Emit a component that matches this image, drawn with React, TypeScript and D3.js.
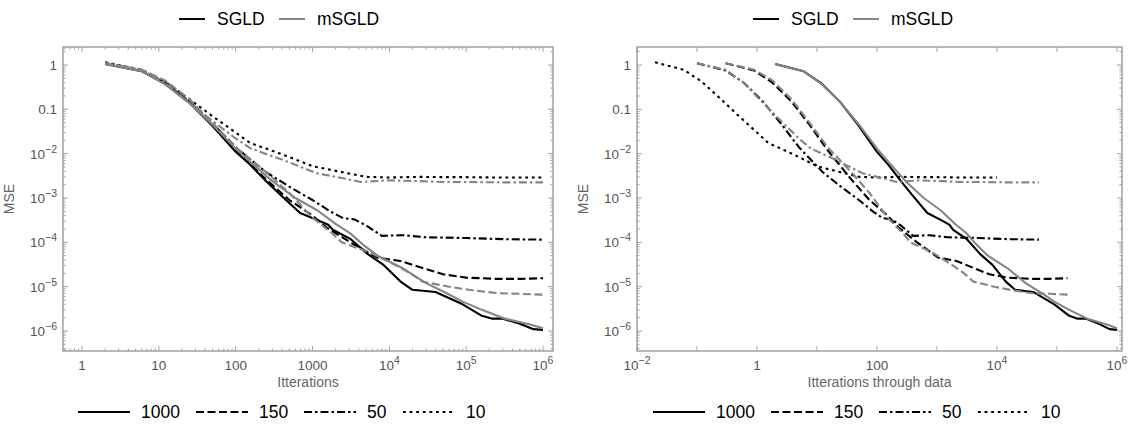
import React from "react";
import * as d3 from "d3";

type Pt = [number, number];

// ---- data (x = iterations, y = MSE) ----
const DATA_SIZE = 1000;
const BATCH_SIZES = [1000, 150, 50, 10];
const METHODS = ["SGLD", "mSGLD"];

const SGLD_1000: Pt[] = [
  [2, 1.05], [6, 0.72], [12, 0.38], [25, 0.14], [50, 0.042], [100, 0.011], [155, 5.6e-3],
  [250, 2.4e-3], [400, 1.1e-3], [690, 4.6e-4], [1150, 3.2e-4], [1600, 2.5e-4], [1860, 1.9e-4],
  [3100, 1.2e-4], [5200, 5.5e-5], [8400, 3.1e-5], [1.4e4, 1.3e-5], [2e4, 8.5e-6], [4e4, 7.6e-6],
  [9e4, 4e-6], [1.6e5, 2.2e-6], [2.2e5, 1.9e-6], [3e5, 1.9e-6], [5e5, 1.45e-6], [7.5e5, 1.1e-6],
  [1e6, 1.06e-6],
];
const MSGLD_1000: Pt[] = [
  [2, 1.05], [6, 0.72], [12, 0.37], [25, 0.14], [50, 0.045], [100, 0.013], [155, 6.5e-3],
  [300, 2.4e-3], [600, 1.0e-3], [1150, 5.3e-4], [2000, 2.6e-4], [3100, 1.6e-4], [4500, 9e-5],
  [7000, 5e-5], [1.5e4, 2.6e-5], [3e4, 1.2e-5], [5.5e4, 7.2e-6], [9e4, 4.6e-6], [1.6e5, 3e-6],
  [3.2e5, 1.9e-6], [6.8e5, 1.4e-6], [1e6, 1.15e-6],
];
const SGLD_150: Pt[] = [
  [2, 1.1], [6, 0.75], [12, 0.4], [25, 0.15], [50, 0.045], [100, 0.012], [250, 2.6e-3],
  [500, 9e-4], [1000, 4e-4], [1500, 2.2e-4], [3100, 1e-4], [7000, 4.5e-5], [1.4e4, 3.8e-5],
  [3e4, 2.5e-5], [5e4, 1.9e-5], [1e5, 1.6e-5], [2.5e5, 1.5e-5], [5e5, 1.5e-5], [1e6, 1.55e-5],
];
const MSGLD_150: Pt[] = [
  [2, 1.1], [6, 0.78], [12, 0.45], [25, 0.17], [50, 0.05], [100, 0.014], [250, 3.8e-3],
  [500, 1.3e-3], [1000, 3.6e-4], [1800, 1.6e-4], [2400, 1e-4], [5700, 5.8e-5], [1.1e4, 3.3e-5],
  [1.8e4, 2.1e-5], [2.7e4, 1.3e-5], [6e4, 1e-5], [1.2e5, 8.3e-6], [2.6e5, 7.1e-6],
  [5e5, 6.9e-6], [1e6, 6.6e-6],
];
const SGLD_50: Pt[] = [
  [2, 1.1], [6, 0.75], [12, 0.4], [25, 0.15], [50, 0.048], [100, 0.014], [250, 3.8e-3],
  [500, 1.8e-3], [1000, 9e-4], [1700, 5e-4], [2500, 3.5e-4], [3500, 3.3e-4], [5000, 2.4e-4],
  [8000, 1.4e-4], [1.5e4, 1.45e-4], [3e4, 1.3e-4], [1e5, 1.25e-4], [3e5, 1.18e-4], [1e6, 1.15e-4],
];
const MSGLD_50: Pt[] = [
  [2, 1.1], [6, 0.78], [12, 0.4], [25, 0.14], [50, 0.055], [100, 0.022], [155, 0.0133],
  [250, 9.8e-3], [415, 7.2e-3], [1150, 3.6e-3], [2500, 2.8e-3], [4200, 2.3e-3], [1e4, 2.5e-3],
  [2.5e4, 2.4e-3], [5e4, 2.3e-3], [1e5, 2.3e-3], [3e5, 2.25e-3], [1e6, 2.25e-3],
];
const SGLD_10: Pt[] = [
  [2, 1.15], [6, 0.78], [12, 0.42], [25, 0.17], [50, 0.07], [100, 0.03], [155, 0.0173],
  [250, 0.013], [500, 8.4e-3], [1000, 5.2e-3], [2500, 3.8e-3], [5000, 3.0e-3], [1e4, 2.9e-3],
  [2.5e4, 3.0e-3], [5e4, 2.95e-3], [1e5, 2.95e-3], [2.5e5, 2.9e-3], [5e5, 2.9e-3], [1e6, 2.9e-3],
];

// SGLD drawn first, mSGLD on top
const SERIES = [
  { method: "SGLD", batch: 1000, data: SGLD_1000 },
  { method: "SGLD", batch: 150, data: SGLD_150 },
  { method: "SGLD", batch: 50, data: SGLD_50 },
  { method: "SGLD", batch: 10, data: SGLD_10 },
  { method: "mSGLD", batch: 1000, data: MSGLD_1000 },
  { method: "mSGLD", batch: 150, data: MSGLD_150 },
  { method: "mSGLD", batch: 50, data: MSGLD_50 },
];

const LEFT_X_EXPS = [0, 1, 2, 3, 4, 5, 6];
const RIGHT_X_EXPS = [-2, -1, 0, 1, 2, 3, 4, 5, 6];
const RIGHT_X_LABELED = [-2, 0, 2, 4, 6];
const Y_EXPS = [0, -1, -2, -3, -4, -5, -6];

// ---- styles ----
const COLORS: Record<string, string> = { SGLD: "#000000", mSGLD: "#858585" };
const DASHES: Record<number, string> = { 1000: "none", 150: "8,3.5", 50: "8,3,2.5,3", 10: "2.8,3.8" };
const FONT = "'Liberation Sans', Arial, Helvetica, sans-serif";
const FRAME = "#9a9a9a";
const LABEL = "#555555";

const W = 1130;
const H = 427;

function ExpLabel({ e, x, y, anchor, plainUpTo }: { e: number; x: number; y: number; anchor: string; plainUpTo: number }) {
  let content: React.ReactNode;
  if (e === 0) content = "1";
  else if (e === -1 && plainUpTo >= 0) content = "0.1";
  else if (e > 0 && e <= plainUpTo) content = String(Math.pow(10, e));
  else
    content = (
      <>
        10
        <tspan dy={-6} fontSize={10.5}>
          {e < 0 ? "\u2212" + Math.abs(e) : String(e)}
        </tspan>
      </>
    );
  return (
    <text x={x} y={y} textAnchor={anchor as any} fontSize={13.5} fill={LABEL} fontFamily={FONT}>
      {content}
    </text>
  );
}

function Panel({
  x0, x1, y0, y1, xLog, xTitle, xExps, xLabeled, minorX, xPlain, xOf, id,
}: {
  x0: number; x1: number; y0: number; y1: number; xLog: [number, number]; xTitle: string;
  xExps: number[]; xLabeled: number[]; minorX: boolean; xPlain: number;
  xOf: (iter: number, batch: number) => number; id: string;
}) {
  const xs = d3.scaleLog().domain([Math.pow(10, xLog[0]), Math.pow(10, xLog[1])]).range([x0, x1]);
  const ys = d3.scaleLog().domain([Math.pow(10, -6.451), Math.pow(10, 0.406)]).range([y1, y0]);
  const line = d3
    .line<Pt>()
    .x((d) => xs(d[0]))
    .y((d) => ys(d[1]));

  const ticks: React.ReactNode[] = [];
  const MAJ = 5;
  const MIN = 2.6;
  xExps.forEach((e) => {
    const px = xs(Math.pow(10, e));
    ticks.push(<line key={`xb${e}`} x1={px} x2={px} y1={y1} y2={y1 - MAJ} />);
    ticks.push(<line key={`xt${e}`} x1={px} x2={px} y1={y0} y2={y0 + MAJ} />);
    if (minorX) {
      for (let k = 2; k <= 9; k++) {
        const v = k * Math.pow(10, e);
        if (v > xs.domain()[1]) continue;
        const p = xs(v);
        ticks.push(<line key={`xbm${e}${k}`} x1={p} x2={p} y1={y1} y2={y1 - MIN} />);
        ticks.push(<line key={`xtm${e}${k}`} x1={p} x2={p} y1={y0} y2={y0 + MIN} />);
      }
    }
  });
  if (minorX) {
    for (let k = 6; k <= 9; k++) {
      const v = k * Math.pow(10, xExps[0] - 1);
      if (v < xs.domain()[0]) continue;
      const p = xs(v);
      ticks.push(<line key={`xbn${k}`} x1={p} x2={p} y1={y1} y2={y1 - MIN} />);
      ticks.push(<line key={`xtn${k}`} x1={p} x2={p} y1={y0} y2={y0 + MIN} />);
    }
  }
  const yExpsAll = [-7, ...Y_EXPS];
  yExpsAll.forEach((e) => {
    const base = Math.pow(10, e);
    if (base >= ys.domain()[0] && base <= ys.domain()[1]) {
      const py = ys(base);
      ticks.push(<line key={`yl${e}`} x1={x0} x2={x0 + MAJ} y1={py} y2={py} />);
      ticks.push(<line key={`yr${e}`} x1={x1} x2={x1 - MAJ} y1={py} y2={py} />);
    }
    for (let k = 2; k <= 9; k++) {
      const v = k * base;
      if (v < ys.domain()[0] || v > ys.domain()[1]) continue;
      const p = ys(v);
      ticks.push(<line key={`ylm${e}${k}`} x1={x0} x2={x0 + MIN} y1={p} y2={p} />);
      ticks.push(<line key={`yrm${e}${k}`} x1={x1} x2={x1 - MIN} y1={p} y2={p} />);
    }
  });

  return (
    <g>
      <defs>
        <clipPath id={id}>
          <rect x={x0} y={y0} width={x1 - x0} height={y1 - y0} />
        </clipPath>
      </defs>
      <g clipPath={`url(#${id})`}>
        {SERIES.map((s, i) => (
          <path
            key={i}
            d={line(s.data.map((d) => [xOf(d[0], s.batch), d[1]] as Pt)) || ""}
            fill="none"
            stroke={COLORS[s.method]}
            strokeWidth={2.1}
            strokeDasharray={DASHES[s.batch]}
            strokeLinejoin="round"
          />
        ))}
      </g>
      <g stroke={FRAME} strokeWidth={0.9}>{ticks}</g>
      <rect x={x0} y={y0} width={x1 - x0} height={y1 - y0} fill="none" stroke={FRAME} strokeWidth={1.4} />
      {xLabeled.map((e) => (
        <ExpLabel key={`xl${e}`} e={e} x={xs(Math.pow(10, e))} y={y1 + 19} anchor="middle" plainUpTo={xPlain} />
      ))}
      {Y_EXPS.map((e) => (
        <ExpLabel key={`yl${e}`} e={e} x={x0 - 6} y={ys(Math.pow(10, e)) + 5} anchor="end" plainUpTo={0} />
      ))}
      <text x={(x0 + x1) / 2} y={y1 + 36} textAnchor="middle" fontSize={14} fill="#666" fontFamily={FONT}>
        {xTitle}
      </text>
      <text
        transform={`translate(${x0 - 49},${(y0 + y1) / 2}) rotate(-90)`}
        textAnchor="middle"
        fontSize={14}
        fill="#666"
        fontFamily={FONT}
      >
        MSE
      </text>
    </g>
  );
}

function TopLegend({ cx }: { cx: number }) {
  const y = 19;
  const widths = [38 + 48, 38 + 68];
  const total = widths[0] + 14 + widths[1];
  let x = cx - total / 2;
  return (
    <g fontFamily={FONT} fontSize={17.5}>
      {METHODS.map((m, i) => {
        const sx = x;
        x += widths[i] + 14;
        return (
          <g key={m}>
            <line x1={sx} x2={sx + 26} y1={y} y2={y} stroke={COLORS[m]} strokeWidth={2} />
            <text x={sx + 38} y={y + 6} fill="#000">{m}</text>
          </g>
        );
      })}
    </g>
  );
}

function BottomLegend({ cx }: { cx: number }) {
  const y = 412;
  const textW: Record<number, number> = { 1000: 39, 150: 29, 50: 20, 10: 20 };
  const seg = 52;
  const gapA = 11;
  const gapB = 16;
  let total = 0;
  BATCH_SIZES.forEach((b, i) => {
    total += seg + gapA + textW[b] + (i < BATCH_SIZES.length - 1 ? gapB : 0);
  });
  let x = cx - total / 2;
  return (
    <g fontFamily={FONT} fontSize={17.5}>
      {BATCH_SIZES.map((b) => {
        const sx = x;
        x += seg + gapA + textW[b] + gapB;
        return (
          <g key={b}>
            <line x1={sx} x2={sx + seg} y1={y} y2={y} stroke="#000" strokeWidth={2} strokeDasharray={DASHES[b]} />
            <text x={sx + seg + gapA} y={y + 6} fill="#000">{b}</text>
          </g>
        );
      })}
    </g>
  );
}

export default function App() {
  return (
    <svg width={W} height={H} style={{ display: "block", position: "absolute", left: 0, top: 0 }}>
      <rect width={W} height={H} fill="#fff" />
      <TopLegend cx={282} />
      <TopLegend cx={856} />
      <Panel
        id="clipL"
        x0={63} x1={553} y0={47} y1={351}
        xLog={[-0.247, 6.13]}
        xTitle="Itterations"
        xExps={LEFT_X_EXPS}
        xLabeled={LEFT_X_EXPS}
        minorX={true}
        xPlain={3}
        xOf={(it) => it}
      />
      <Panel
        id="clipR"
        x0={637} x1={1122} y0={47} y1={351}
        xLog={[-2, 6.083]}
        xTitle="Itterations through data"
        xExps={RIGHT_X_EXPS}
        xLabeled={RIGHT_X_LABELED}
        minorX={false}
        xPlain={2}
        xOf={(it, b) => (it * b) / DATA_SIZE}
      />
      <BottomLegend cx={282} />
      <BottomLegend cx={857} />
    </svg>
  );
}
